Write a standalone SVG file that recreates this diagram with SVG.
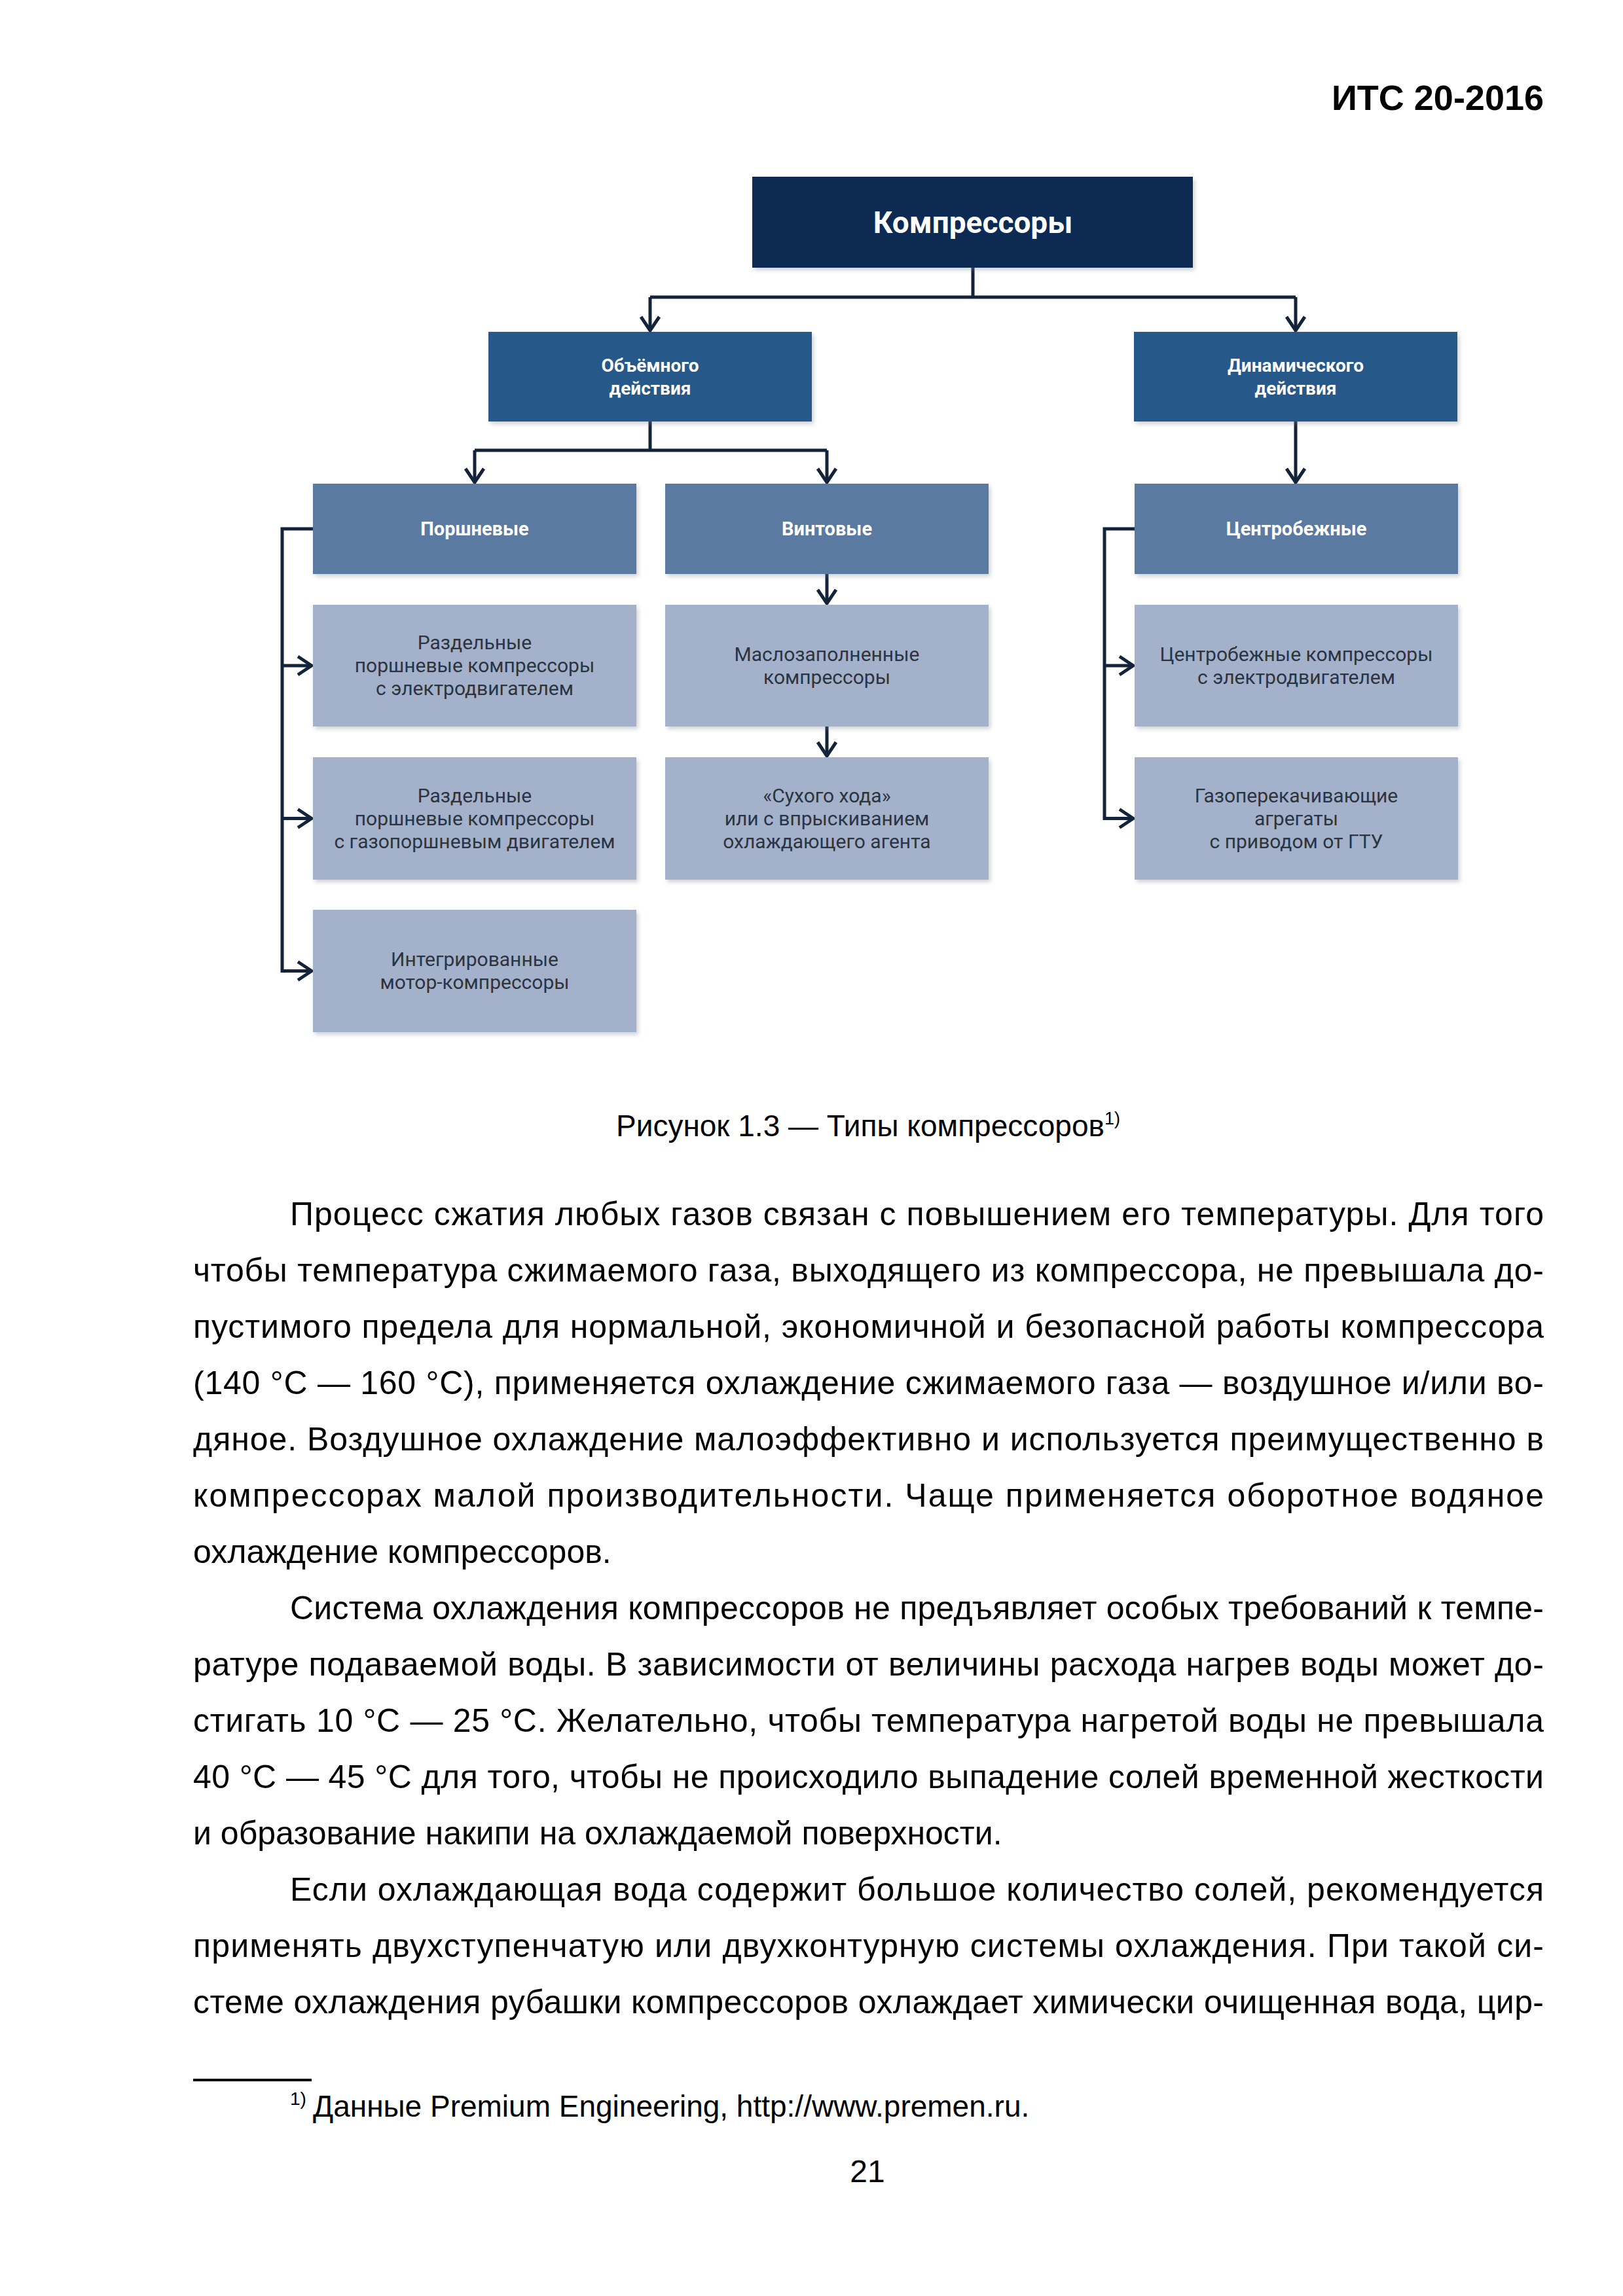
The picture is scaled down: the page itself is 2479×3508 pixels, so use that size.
<svg xmlns="http://www.w3.org/2000/svg" width="2479" height="3508" viewBox="0 0 2479 3508">
<defs>
<style>
.page{font-family:"Liberation Sans",Arial,sans-serif;fill:#000;}
.body{font-size:50px;}
.hdr{font-size:54px;font-weight:bold;}
.dtop{fill:#0e2b52;filter:url(#sh);}
.dl2{fill:#28598a;filter:url(#sh);}
.dl3{fill:#5a7aa2;filter:url(#sh);}
.dl4{fill:#a3b1cb;filter:url(#sh);}
.tb{font-family:Roboto,"Open Sans","Noto Sans",sans-serif;font-weight:bold;fill:#fff;text-anchor:middle;}
.tl{font-family:Roboto,"Open Sans","Noto Sans",sans-serif;font-size:30px;fill:#2c3440;text-anchor:middle;}
.con{fill:none;stroke:#13233a;stroke-width:5;}
</style>
<filter id="sh" x="-5%" y="-10%" width="112%" height="125%">
<feDropShadow dx="3" dy="4" stdDeviation="3" flood-color="#7a8190" flood-opacity="0.35"/>
</filter>
<marker id="arr" markerUnits="userSpaceOnUse" markerWidth="30" markerHeight="34" viewBox="0 0 30 34" refX="26" refY="17" orient="auto">
<path d="M5,3 L26,17 L5,31" fill="none" stroke="#13233a" stroke-width="5"/>
</marker>
</defs>
<rect x="0" y="0" width="2479" height="3508" fill="#fff"/>

<g id="connectors">
<path class="con" d="M1486,409 V454"/>
<path class="con" d="M993,454 H1979"/>
<path class="con" d="M993,454 V505" marker-end="url(#arr)"/>
<path class="con" d="M1979,454 V505" marker-end="url(#arr)"/>
<path class="con" d="M993,644 V688"/>
<path class="con" d="M725,688 H1263"/>
<path class="con" d="M725,688 V737" marker-end="url(#arr)"/>
<path class="con" d="M1263,688 V737" marker-end="url(#arr)"/>
<path class="con" d="M1979,644 V737" marker-end="url(#arr)"/>
<path class="con" d="M1263,877 V922" marker-end="url(#arr)"/>
<path class="con" d="M1263,1110 V1155" marker-end="url(#arr)"/>
<path class="con" d="M478,808 H431 V1483.5 H476" marker-end="url(#arr)"/>
<path class="con" d="M431,1017 H476" marker-end="url(#arr)"/>
<path class="con" d="M431,1250.5 H476" marker-end="url(#arr)"/>
<path class="con" d="M1733,808 H1687 V1250.5 H1731" marker-end="url(#arr)"/>
<path class="con" d="M1687,1017 H1731" marker-end="url(#arr)"/>
</g>

<g id="n-top">
<rect class="dtop" x="1149" y="270" width="673" height="139"/>
<text class="tb" x="1486" y="356" font-size="46">Компрессоры</text>
</g>
<g id="n-vol">
<rect class="dl2" x="746" y="507" width="494" height="137"/>
<text class="tb" x="993" y="568" font-size="28">Объёмного</text>
<text class="tb" x="993" y="603" font-size="28">действия</text>
</g>
<g id="n-dyn">
<rect class="dl2" x="1732" y="507" width="494" height="137"/>
<text class="tb" x="1979" y="568" font-size="28">Динамического</text>
<text class="tb" x="1979" y="603" font-size="28">действия</text>
</g>
<g id="n-pist">
<rect class="dl3" x="478" y="739" width="494" height="138"/>
<text class="tb" x="725" y="818" font-size="29">Поршневые</text>
</g>
<g id="n-screw">
<rect class="dl3" x="1016" y="739" width="494" height="138"/>
<text class="tb" x="1263" y="818" font-size="29">Винтовые</text>
</g>
<g id="n-cent">
<rect class="dl3" x="1733" y="739" width="494" height="138"/>
<text class="tb" x="1980" y="818" font-size="29">Центробежные</text>
</g>
<g id="n-pist1">
<rect class="dl4" x="478" y="924" width="494" height="186"/>
<text class="tl" x="725" y="992">Раздельные</text>
<text class="tl" x="725" y="1027">поршневые компрессоры</text>
<text class="tl" x="725" y="1062">с электродвигателем</text>
</g>
<g id="n-pist2">
<rect class="dl4" x="478" y="1157" width="494" height="187"/>
<text class="tl" x="725" y="1226">Раздельные</text>
<text class="tl" x="725" y="1261">поршневые компрессоры</text>
<text class="tl" x="725" y="1296">с газопоршневым двигателем</text>
</g>
<g id="n-pist3">
<rect class="dl4" x="478" y="1390" width="494" height="187"/>
<text class="tl" x="725" y="1476">Интегрированные</text>
<text class="tl" x="725" y="1511">мотор-компрессоры</text>
</g>
<g id="n-screw1">
<rect class="dl4" x="1016" y="924" width="494" height="186"/>
<text class="tl" x="1263" y="1010">Маслозаполненные</text>
<text class="tl" x="1263" y="1045">компрессоры</text>
</g>
<g id="n-screw2">
<rect class="dl4" x="1016" y="1157" width="494" height="187"/>
<text class="tl" x="1263" y="1226">«Сухого хода»</text>
<text class="tl" x="1263" y="1261">или с впрыскиванием</text>
<text class="tl" x="1263" y="1296">охлаждающего агента</text>
</g>
<g id="n-cent1">
<rect class="dl4" x="1733" y="924" width="494" height="186"/>
<text class="tl" x="1980" y="1010">Центробежные компрессоры</text>
<text class="tl" x="1980" y="1045">с электродвигателем</text>
</g>
<g id="n-cent2">
<rect class="dl4" x="1733" y="1157" width="494" height="187"/>
<text class="tl" x="1980" y="1226">Газоперекачивающие</text>
<text class="tl" x="1980" y="1261">агрегаты</text>
<text class="tl" x="1980" y="1296">с приводом от ГТУ</text>
</g>

<g id="page-text" class="page">
<text class="hdr" x="2358" y="168" text-anchor="end">ИТС 20-2016</text>
<text x="941" y="1736" font-size="46">Рисунок 1.3 — Типы компрессоров<tspan font-size="27" dy="-18">1)</tspan></text>

<text class="body" x="443" y="1872" textLength="1915" lengthAdjust="spacing">Процесс сжатия любых газов связан с повышением его температуры. Для того</text>
<text class="body" x="295" y="1958" textLength="2063" lengthAdjust="spacing">чтобы температура сжимаемого газа, выходящего из компрессора, не превышала до-</text>
<text class="body" x="295" y="2044" textLength="2063" lengthAdjust="spacing">пустимого предела для нормальной, экономичной и безопасной работы компрессора</text>
<text class="body" x="295" y="2130" textLength="2063" lengthAdjust="spacing">(140 °C — 160 °C), применяется охлаждение сжимаемого газа — воздушное и/или во-</text>
<text class="body" x="295" y="2216" textLength="2063" lengthAdjust="spacing">дяное. Воздушное охлаждение малоэффективно и используется преимущественно в</text>
<text class="body" x="295" y="2302" textLength="2063" lengthAdjust="spacing">компрессорах малой производительности. Чаще применяется оборотное водяное</text>
<text class="body" x="295" y="2388">охлаждение компрессоров.</text>

<text class="body" x="443" y="2474" textLength="1915" lengthAdjust="spacing">Система охлаждения компрессоров не предъявляет особых требований к темпе-</text>
<text class="body" x="295" y="2560" textLength="2063" lengthAdjust="spacing">ратуре подаваемой воды. В зависимости от величины расхода нагрев воды может до-</text>
<text class="body" x="295" y="2646" textLength="2063" lengthAdjust="spacing">стигать 10 °C — 25 °C. Желательно, чтобы температура нагретой воды не превышала</text>
<text class="body" x="295" y="2732" textLength="2063" lengthAdjust="spacing">40 °C — 45 °C для того, чтобы не происходило выпадение солей временной жесткости</text>
<text class="body" x="295" y="2818">и образование накипи на охлаждаемой поверхности.</text>

<text class="body" x="443" y="2904" textLength="1915" lengthAdjust="spacing">Если охлаждающая вода содержит большое количество солей, рекомендуется</text>
<text class="body" x="295" y="2990" textLength="2063" lengthAdjust="spacing">применять двухступенчатую или двухконтурную системы охлаждения. При такой си-</text>
<text class="body" x="295" y="3076" textLength="2063" lengthAdjust="spacing">стеме охлаждения рубашки компрессоров охлаждает химически очищенная вода, цир-</text>

<rect x="295" y="3176" width="181" height="4" fill="#000"/>
<text x="443" y="3216" font-size="28">1)</text>
<text x="478" y="3234" font-size="46">Данные Premium Engineering, http://www.premen.ru.</text>
<text x="1325" y="3334" font-size="48" text-anchor="middle">21</text>
</g>
</svg>
